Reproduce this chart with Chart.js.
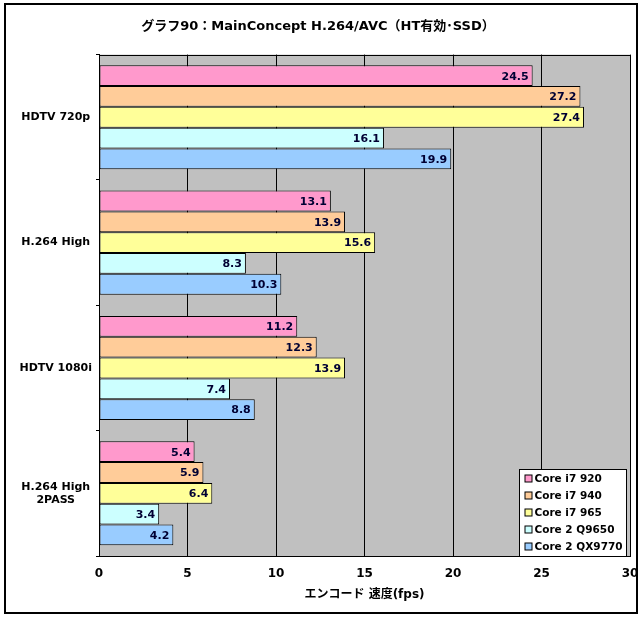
<!DOCTYPE html>
<html><head><meta charset="utf-8">
<script src="https://cdn.jsdelivr.net/npm/chart.js@4"></script>
<style>html,body{margin:0;padding:0;background:#fff;}#wrap{width:644px;height:619px;}</style>
</head><body><div id="wrap"><canvas id="c" width="644" height="619"></canvas></div>
<script>
const categories = ['HDTV 720p', 'H.264 High', 'HDTV 1080i', ['H.264 High', '2PASS']];
const seriesNames = ['Core i7 920', 'Core i7 940', 'Core i7 965', 'Core 2 Q9650', 'Core 2 QX9770'];
const core_i7_920 = [24.5, 13.1, 11.2, 5.4];
const core_i7_940 = [27.2, 13.9, 12.3, 5.9];
const core_i7_965 = [27.4, 15.6, 13.9, 6.4];
const core2_q9650 = [16.1, 8.3, 7.4, 3.4];
const core2_qx9770 = [19.9, 10.3, 8.8, 4.2];
const seriesColors = ['#FF99CC', '#FFCC99', '#FFFF99', '#CCFFFF', '#99CCFF'];
const xTicks = [0, 5, 10, 15, 20, 25, 30];
const titleText = 'グラフ90：MainConcept H.264/AVC（HT有効･SSD）';
const xTitle = 'エンコード 速度(fps)';

const FONT = "'DejaVu Sans', 'Noto Sans CJK JP', sans-serif";
const allSeries = [core_i7_920, core_i7_940, core_i7_965, core2_q9650, core2_qx9770];

const bgPlugin = {
  id: 'bg',
  beforeDraw(chart) {
    const {ctx, chartArea: a} = chart;
    ctx.save();
    ctx.fillStyle = '#fff';
    ctx.fillRect(0, 0, chart.width, chart.height);
    ctx.strokeStyle = '#000';
    ctx.lineWidth = 2;
    ctx.strokeRect(5, 4, 632, 609);
    ctx.fillStyle = '#C0C0C0';
    ctx.fillRect(a.left, a.top, a.right - a.left, a.bottom - a.top);
    ctx.restore();
  },
  afterDraw(chart) {
    const {ctx, chartArea: a} = chart;
    ctx.save();
    ctx.strokeStyle = '#000';
    ctx.lineWidth = 1;
    ctx.strokeRect(Math.round(a.left) + 0.5, Math.round(a.top) + 0.5, Math.round(a.right - a.left), Math.round(a.bottom - a.top));
    // legend
    const lx = 519.5, ly = 469.5, lw = 107, lh = 87;
    ctx.fillStyle = '#fff';
    ctx.fillRect(lx, ly, lw, lh);
    ctx.strokeRect(lx, ly, lw, lh);
    ctx.font = 'bold 10.5px ' + FONT;
    ctx.textBaseline = 'middle';
    ctx.textAlign = 'left';
    chart.data.datasets.forEach((ds, i) => {
      const y = ly + 9 + i * 17;
      ctx.fillStyle = ds.backgroundColor;
      ctx.fillRect(lx + 5.5, y - 3.5, 7, 7);
      ctx.strokeRect(lx + 5.5, y - 3.5, 7, 7);
      ctx.fillStyle = '#000';
      ctx.fillText(ds.label, lx + 15, y + 0.5);
    });
    ctx.restore();
  },
  afterDatasetsDraw(chart) {
    const {ctx} = chart;
    ctx.save();
    ctx.font = 'bold 11px ' + FONT;
    ctx.fillStyle = '#000033';
    ctx.textAlign = 'right';
    ctx.textBaseline = 'middle';
    chart.data.datasets.forEach((ds, i) => {
      const meta = chart.getDatasetMeta(i);
      meta.data.forEach((bar, j) => {
        ctx.fillText(ds.data[j].toFixed(1), bar.x - 4, bar.y + 1);
      });
    });
    ctx.restore();
  }
};

new Chart(document.getElementById('c'), {
  type: 'bar',
  data: {
    labels: categories,
    datasets: seriesNames.map((n, i) => ({
      label: n,
      data: allSeries[i],
      backgroundColor: seriesColors[i],
      borderColor: '#000',
      borderWidth: 1,
      borderSkipped: false,
      categoryPercentage: 0.83,
      barPercentage: 1.0
    }))
  },
  options: {
    indexAxis: 'y',
    responsive: false,
    animation: false,
    devicePixelRatio: 1,
    layout: {padding: {top: 0, left: 6, right: 14, bottom: 0}},
    plugins: {
      legend: {display: false},
      tooltip: {enabled: false},
      title: {
        display: true,
        text: titleText,
        color: '#000',
        font: {family: FONT, size: 13, weight: 'bold'},
        padding: {top: 19, bottom: 20}
      }
    },
    scales: {
      x: {
        min: 0, max: 30,
        afterBuildTicks(scale) { scale.ticks = xTicks.map(v => ({value: v})); },
        afterFit(scale) { scale.height = 63; scale.paddingLeft = 0; scale.paddingRight = 0; },
        grid: {color: '#000', drawTicks: false, lineWidth: 1},
        border: {display: true, color: '#000'},
        ticks: {color: '#000', padding: 11, font: {family: FONT, size: 12, weight: 'bold'}},
        title: {display: true, text: xTitle, color: '#000', font: {family: FONT, size: 12, weight: 'bold'}, padding: {top: 0, bottom: 17}}
      },
      y: {
        afterFit(scale) { scale.width = 93; scale.paddingTop = 0; scale.paddingBottom = 0; },
        grid: {drawOnChartArea: false, drawTicks: true, tickLength: 3, color: '#000', offset: true},
        border: {display: true, color: '#000'},
        ticks: {color: '#000', crossAlign: 'center', padding: 4, font: {family: FONT, size: 11, weight: 'bold'}}
      }
    }
  },
  plugins: [bgPlugin]
});
</script></body></html>
